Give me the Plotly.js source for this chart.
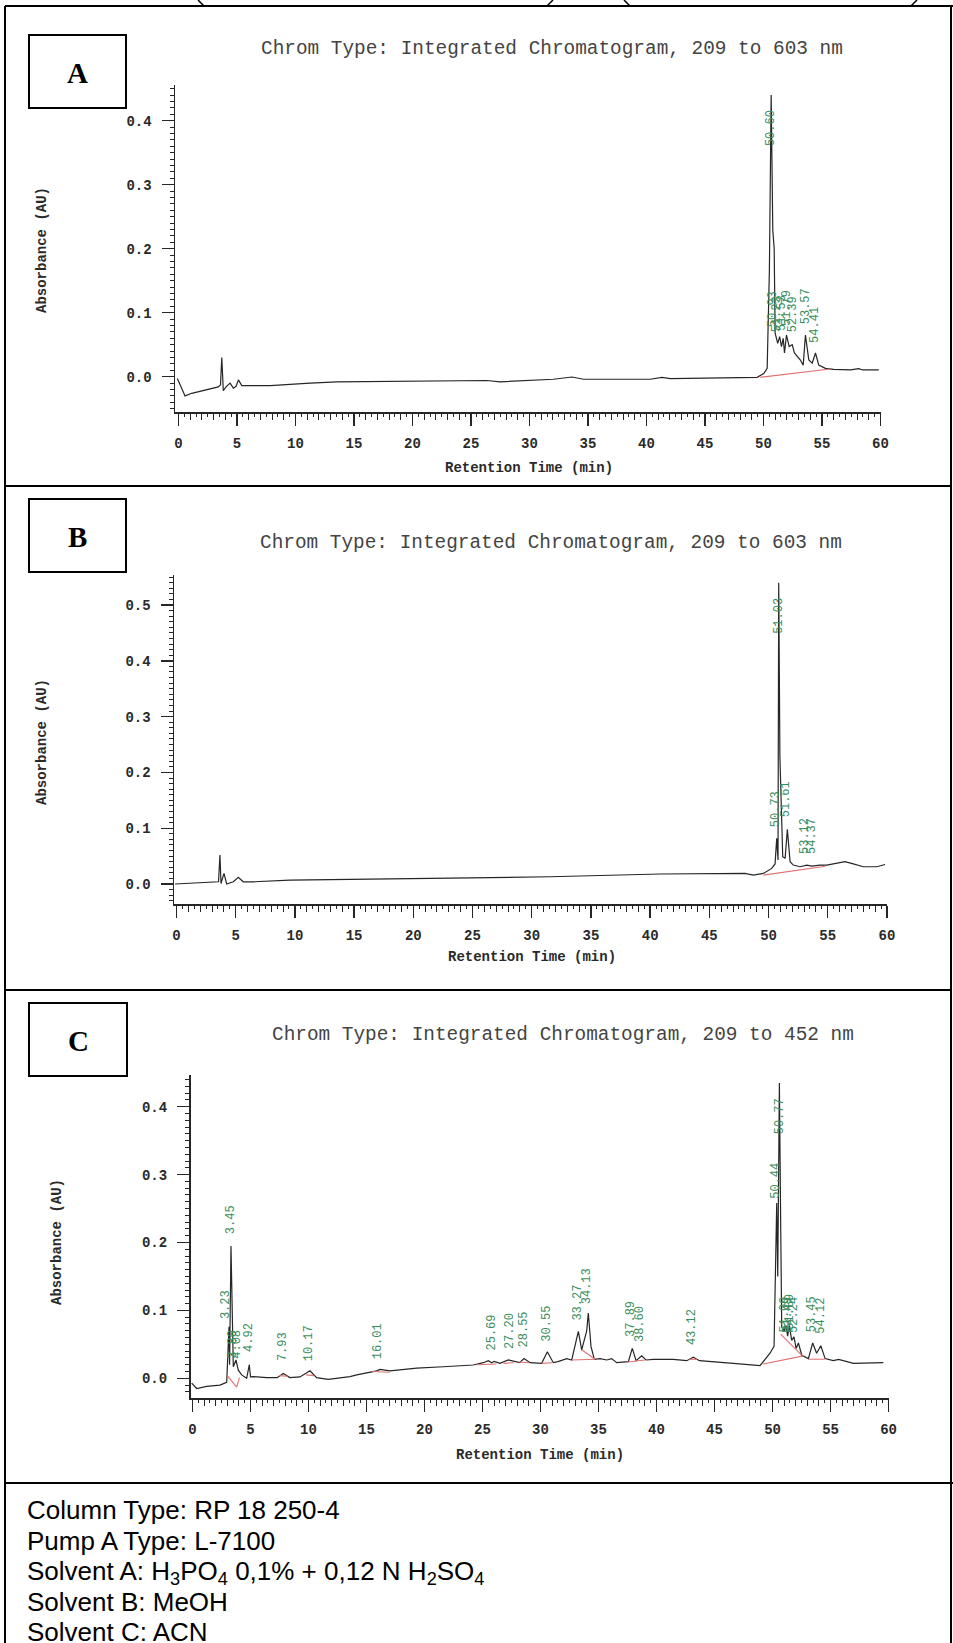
<!DOCTYPE html>
<html>
<head>
<meta charset="utf-8">
<script src="https://cdn.plot.ly/plotly-3.0.1.min.js"></script>
<style>
  html, body { margin: 0; padding: 0; background: #ffffff; }
  #chart { width: 953px; height: 1643px; }
</style>
</head>
<body>
<div id="chart"></div>
<script>
// ---------------- DATA ----------------
// Panel A : chromatogram 209-603 nm
const aTime = [-0.10, 0.56, 1.13, 2.12, 3.40, 3.59, 3.70, 3.83, 4.06, 4.41, 4.69, 4.92, 5.12, 5.41, 7.83, 11.25, 13.53, 26.36, 27.5, 32.04, 33.63, 34.63, 40.33, 41.33, 42.05, 49.46, 50.03, 50.32, 50.51, 50.66, 50.80, 50.92, 51.0, 51.22, 51.39, 51.54, 51.69, 51.80, 51.97, 52.20, 52.46, 52.65, 53.16, 53.40, 53.59, 53.88, 54.17, 54.45, 54.73, 55.30, 56.01, 57.44, 58.15, 58.47, 59.86];
const aAbs  = [-0.003, -0.030, -0.026, -0.022, -0.016, -0.013, 0.030, -0.022, -0.016, -0.010, -0.018, -0.015, -0.005, -0.014, -0.014, -0.010, -0.008, -0.006, -0.008, -0.004, -0.0005, -0.004, -0.004, -0.001, -0.003, -0.001, 0.005, 0.013, 0.167, 0.440, 0.229, 0.200, 0.068, 0.052, 0.0625, 0.047, 0.060, 0.037, 0.065, 0.047, 0.050, 0.037, 0.026, 0.018, 0.065, 0.026, 0.021, 0.037, 0.018, 0.013, 0.0115, 0.0105, 0.0125, 0.0105, 0.0105];
const aBaseTime = [49.7, 55.7];
const aBaseAbs  = [-0.001, 0.012];
const aPeakText = ["50.60", "50.93", "51.23", "51.53", "51.79", "52.39", "53.57", "54.41"];
const aPeakX    = [50.66, 50.83, 51.17, 51.60, 52.03, 52.54, 53.59, 54.45];
const aPeakY    = [0.359, 0.076, 0.068, 0.070, 0.078, 0.068, 0.081, 0.052];

// Panel B : chromatogram 209-603 nm
const bTime = [-0.13, 2.55, 3.55, 3.67, 3.76, 4.01, 4.24, 4.80, 5.22, 5.64, 6.49, 9.59, 18.9, 27.32, 31.55, 40.83, 48.0, 48.72, 49.56, 50.27, 50.55, 50.69, 50.80, 50.86, 50.96, 51.20, 51.40, 51.59, 51.82, 52.09, 52.66, 53.23, 53.65, 54.35, 54.92, 55.47, 56.46, 57.16, 58.0, 59.14, 59.84];
const bAbs  = [0.0, 0.002, 0.004, 0.052, 0.001, 0.019, 0.0, 0.004, 0.012, 0.004, 0.004, 0.007, 0.009, 0.012, 0.013, 0.018, 0.019, 0.016, 0.019, 0.028, 0.036, 0.082, 0.043, 0.540, 0.228, 0.049, 0.046, 0.098, 0.040, 0.034, 0.031, 0.034, 0.032, 0.034, 0.034, 0.036, 0.040, 0.036, 0.031, 0.031, 0.035];
const bBaseTime = [49.56, 54.8];
const bBaseAbs  = [0.016, 0.032];
const bPeakText = ["51.03", "50.73", "51.61", "53.12", "54.37"];
const bPeakX    = [50.86, 50.63, 51.48, 53.08, 53.67];
const bPeakY    = [0.446, 0.100, 0.118, 0.052, 0.052];

// Panel C : chromatogram 209-452 nm
const cTime = [-0.07, 0.36, 1.22, 2.37, 2.95, 3.15, 3.20, 3.32, 3.52, 3.75, 3.95, 4.24, 4.67, 4.90, 5.00, 5.24, 6.4, 7.3, 7.83, 8.4, 9.26, 10.13, 10.7, 11.7, 13.58, 14.16, 15.88, 16.16, 17.03, 19.33, 21.62, 24.2, 25.07, 25.5, 25.8, 26.0, 26.5, 27.22, 28.2, 28.58, 29.1, 30.1, 30.59, 31.1, 31.5, 32.26, 32.69, 32.97, 33.26, 33.55, 33.98, 34.12, 34.35, 34.64, 35.13, 35.71, 36.13, 36.57, 37.57, 37.91, 38.24, 38.72, 39.1, 39.73, 41.45, 42.6, 43.17, 43.7, 45.19, 46.62, 48.92, 49.35, 49.78, 50.13, 50.24, 50.36, 50.45, 50.59, 50.71, 50.79, 51.0, 51.16, 51.3, 51.45, 51.65, 51.85, 52.03, 52.23, 52.52, 53.09, 53.46, 53.8, 54.16, 54.53, 55.24, 55.7, 56.97, 58.1, 59.55];
const cAbs  = [-0.007, -0.015, -0.012, -0.010, -0.006, 0.076, 0.020, 0.195, 0.017, 0.027, 0.012, 0.005, 0.0, 0.020, 0.002, 0.0025, 0.001, 0.001, 0.007, 0.001, 0.002, 0.011, 0.001, -0.0015, 0.0025, 0.005, 0.011, 0.013, 0.011, 0.015, 0.017, 0.0196, 0.023, 0.026, 0.023, 0.025, 0.022, 0.027, 0.023, 0.029, 0.023, 0.022, 0.039, 0.023, 0.0245, 0.029, 0.027, 0.047, 0.069, 0.042, 0.070, 0.096, 0.047, 0.028, 0.029, 0.027, 0.029, 0.023, 0.0245, 0.044, 0.026, 0.033, 0.027, 0.028, 0.028, 0.026, 0.031, 0.026, 0.0245, 0.022, 0.0186, 0.027, 0.037, 0.047, 0.130, 0.258, 0.150, 0.435, 0.214, 0.076, 0.070, 0.078, 0.062, 0.078, 0.056, 0.061, 0.044, 0.052, 0.034, 0.029, 0.052, 0.037, 0.048, 0.029, 0.026, 0.028, 0.022, 0.022, 0.023];
const cBaseTime = [3.0, 3.81, 4.05, null, 7.5, 8.2, null, 9.8, 10.5, null, 15.5, 17.0, null, 24.5, 26.2, null, 26.8, 27.7, null, 28.1, 29.0, null, 30.1, 31.0, null, 32.7, 34.7, null, 33.55, 34.7, null, 37.5, 38.3, 39.0, null, 42.8, 43.5, null, 49.2, 52.65, null, 50.7, 52.5, null, 53.1, 54.5];
const cBaseAbs  = [0.004, -0.013, 0.001, null, 0.004, 0.003, null, 0.005, 0.004, null, 0.010, 0.009, null, 0.020, 0.021, null, 0.022, 0.023, null, 0.024, 0.023, null, 0.022, 0.023, null, 0.027, 0.028, null, 0.042, 0.028, null, 0.024, 0.026, 0.027, null, 0.028, 0.028, null, 0.021, 0.033, null, 0.065, 0.034, null, 0.028, 0.028];
const cPeakText = ["3.23", "3.45", "3.80", "4.08", "4.92", "7.93", "10.17", "16.01", "25.69", "27.20", "28.55", "30.55", "33.27", "34.13", "37.89", "38.60", "43.12", "50.44", "50.77", "51.09", "51.49", "51.89", "52.24", "53.45", "54.12"];
const cPeakX    = [2.95, 3.29, 3.52, 3.86, 4.81, 7.77, 10.07, 16.02, 25.79, 27.31, 28.58, 30.53, 33.20, 34.03, 37.86, 38.58, 43.12, 50.30, 50.65, 50.99, 51.28, 51.50, 51.80, 53.38, 54.16];
const cPeakY    = [0.086, 0.211, 0.027, 0.027, 0.037, 0.024, 0.024, 0.027, 0.039, 0.042, 0.044, 0.052, 0.083, 0.108, 0.059, 0.052, 0.047, 0.263, 0.358, 0.066, 0.066, 0.070, 0.066, 0.066, 0.064];

// Axis tick labels
const xMajorTicks = [0, 5, 10, 15, 20, 25, 30, 35, 40, 45, 50, 55, 60];
const xMajorText  = ["0", "5", "10", "15", "20", "25", "30", "35", "40", "45", "50", "55", "60"];

// Texts
const chromTitles = [
  "Chrom Type: Integrated Chromatogram, 209 to 603 nm",
  "Chrom Type: Integrated Chromatogram, 209 to 603 nm",
  "Chrom Type: Integrated Chromatogram, 209 to 452 nm"
];
const panelLetters = ["A", "B", "C"];
const yTitle = "Absorbance (AU)";
const xTitle = "Retention Time (min)";
const notes = [
  "Column Type: RP 18 250-4",
  "Pump A Type: L-7100",
  "Solvent A: H<sub>3</sub>PO<sub>4</sub> 0,1% + 0,12 N H<sub>2</sub>SO<sub>4</sub>",
  "Solvent B: MeOH",
  "Solvent C: ACN"
];

// ---------------- LAYOUT ----------------
const W = 953, H = 1643;
const fx = p => p / W;
const fy = p => 1 - p / H;

const INK = '#262626';
const GREEN = '#3b8e5e';
const RED = '#e07070';
const monoB = {family: 'Liberation Mono, Courier New, monospace', size: 14, color: '#2a2a2a', weight: 'bold'};

// panel geometry in page pixels
const panels = [
  {xd: [175, 881],   xr: [-0.30, 60.05], yd: [85, 412],    yr: [-0.0552, 0.4558],
   box: [29, 35, 126, 108],    title: [259, 49],   ytitle: [42, 250],   xtitle: [529, 468]},
  {xd: [174, 887.3], xr: [-0.21, 60.03], yd: [575, 904],   yr: [-0.0358, 0.5538],
   box: [29, 499, 126, 572],   title: [258, 543],  ytitle: [42, 742],   xtitle: [532, 957]},
  {xd: [190.5, 888.9], xr: [-0.17, 60.03], yd: [1075, 1398], yr: [-0.029, 0.4467],
   box: [29, 1003, 127, 1076], title: [270, 1035], ytitle: [57, 1242],  xtitle: [540, 1455]}
];

const series = [
  {t: aTime, v: aAbs, bt: aBaseTime, bv: aBaseAbs, lt: aPeakText, lx: aPeakX, ly: aPeakY},
  {t: bTime, v: bAbs, bt: bBaseTime, bv: bBaseAbs, lt: bPeakText, lx: bPeakX, ly: bPeakY},
  {t: cTime, v: cAbs, bt: cBaseTime, bv: cBaseAbs, lt: cPeakText, lx: cPeakX, ly: cPeakY}
];

const layout = {
  width: W, height: H,
  margin: {l: 0, r: 0, t: 0, b: 0},
  paper_bgcolor: '#ffffff',
  plot_bgcolor: 'rgba(0,0,0,0)',
  showlegend: false,
  hovermode: false,
  shapes: [],
  annotations: []
};
const traces = [];

panels.forEach((p, i) => {
  const n = i + 1;
  const xn = n === 1 ? 'x' : 'x' + n;
  const yn = n === 1 ? 'y' : 'y' + n;
  const ovn = 'x' + (n + 3);
  const xdom = [fx(p.xd[0]), fx(p.xd[1])];
  const ydom = [fy(p.yd[1]), fy(p.yd[0])];

  layout['xaxis' + (n === 1 ? '' : n)] = {
    domain: xdom, range: p.xr, anchor: yn,
    showline: true, linecolor: INK, linewidth: 1.5,
    ticks: 'outside', tickvals: xMajorTicks, ticktext: xMajorText,
    ticklen: 12, tickwidth: 1.4, tickcolor: INK,
    tickfont: monoB, ticklabelstandoff: 6,
    showgrid: false, zeroline: false, fixedrange: true
  };
  layout['xaxis' + (n + 3)] = {
    overlaying: xn, anchor: yn, range: p.xr,
    ticks: 'outside', tick0: 0, dtick: 1, ticklen: 7, tickwidth: 1, tickcolor: INK,
    minor: {ticks: 'outside', tick0: 0, dtick: 0.5, ticklen: 4, tickwidth: 1, tickcolor: INK, showgrid: false},
    showticklabels: false, showline: false, showgrid: false, zeroline: false, fixedrange: true
  };
  layout['yaxis' + (n === 1 ? '' : n)] = {
    domain: ydom, range: p.yr, anchor: xn,
    showline: true, linecolor: INK, linewidth: 1.5,
    ticks: 'outside', tick0: 0, dtick: 0.1, tickformat: '.1f',
    ticklen: 12, tickwidth: 1.4, tickcolor: INK,
    minor: {ticks: 'outside', tick0: 0, dtick: 0.01, ticklen: 4, tickwidth: 1, tickcolor: INK, showgrid: false},
    tickfont: monoB, ticklabelstandoff: 7,
    showgrid: false, zeroline: false, fixedrange: true
  };

  const s = series[i];
  traces.push({
    type: 'scatter', mode: 'lines', x: s.t, y: s.v, xaxis: xn, yaxis: yn,
    line: {color: INK, width: 1.2}, hoverinfo: 'skip'
  });
  traces.push({
    type: 'scatter', mode: 'lines', x: s.bt, y: s.bv, xaxis: ovn, yaxis: yn,
    line: {color: RED, width: 1.1}, connectgaps: false, hoverinfo: 'skip'
  });

  s.lt.forEach((txt, k) => {
    layout.annotations.push({
      xref: xn, yref: yn, x: s.lx[k], y: s.ly[k], text: txt,
      textangle: -90, xanchor: 'center', yanchor: 'bottom', showarrow: false,
      borderpad: 0,
      font: {family: 'Liberation Mono, Courier New, monospace', size: 12, color: GREEN}
    });
  });

  // panel letter box
  layout.shapes.push({type: 'rect', xref: 'paper', yref: 'paper',
    x0: fx(p.box[0]), x1: fx(p.box[2]), y0: fy(p.box[3]), y1: fy(p.box[1]),
    line: {color: '#000', width: 2}, fillcolor: 'rgba(0,0,0,0)'});
  layout.annotations.push({xref: 'paper', yref: 'paper',
    x: fx((p.box[0] + p.box[2]) / 2), y: fy((p.box[1] + p.box[3]) / 2 + 1),
    xanchor: 'center', yanchor: 'middle', showarrow: false, text: panelLetters[i],
    font: {family: 'Liberation Serif, Times New Roman, serif', size: 29, color: '#000', weight: 'bold'}});

  // chromatogram title
  layout.annotations.push({xref: 'paper', yref: 'paper',
    x: fx(p.title[0]), y: fy(p.title[1]), xanchor: 'left', yanchor: 'middle',
    showarrow: false, text: chromTitles[i],
    font: {family: 'Liberation Mono, Courier New, monospace', size: 19.4, color: '#444'}});

  // axis titles
  layout.annotations.push({xref: 'paper', yref: 'paper',
    x: fx(p.ytitle[0]), y: fy(p.ytitle[1]), xanchor: 'center', yanchor: 'middle',
    textangle: -90, showarrow: false, text: yTitle, font: monoB});
  layout.annotations.push({xref: 'paper', yref: 'paper',
    x: fx(p.xtitle[0]), y: fy(p.xtitle[1]), xanchor: 'center', yanchor: 'middle',
    showarrow: false, text: xTitle, font: monoB});
});

// table frame lines
const frame = [
  [5, 6, 953, 6], [5, 486, 951, 486], [5, 990, 951, 990], [5, 1483, 953, 1483],
  [5, 6, 5, 1643], [951, 6, 951, 1643]
];
frame.forEach(f => layout.shapes.push({type: 'line', xref: 'paper', yref: 'paper',
  x0: fx(f[0]), y0: fy(f[1]), x1: fx(f[2]), y1: fy(f[3]), line: {color: '#000', width: 2}}));

// bits of brackets from the cut-off row above
const brackets = [[198, 0, 204, 6], [553, 0, 547, 6], [624, 0, 630, 6], [917, 0, 911, 6]];
brackets.forEach(b => layout.shapes.push({type: 'line', xref: 'paper', yref: 'paper',
  x0: fx(b[0]), y0: fy(b[1]), x1: fx(b[2]), y1: fy(b[3]), line: {color: '#000', width: 1.5}}));

// method notes
const noteY = [1510, 1541, 1572, 1602, 1632];
notes.forEach((t, k) => layout.annotations.push({xref: 'paper', yref: 'paper',
  x: fx(25), y: fy(noteY[k]), xanchor: 'left', yanchor: 'middle', showarrow: false,
  text: t, font: {family: 'Liberation Sans, Arial, sans-serif', size: 26, color: '#000'}}));

Plotly.newPlot('chart', traces, layout, {staticPlot: true, displayModeBar: false});
</script>
</body>
</html>
